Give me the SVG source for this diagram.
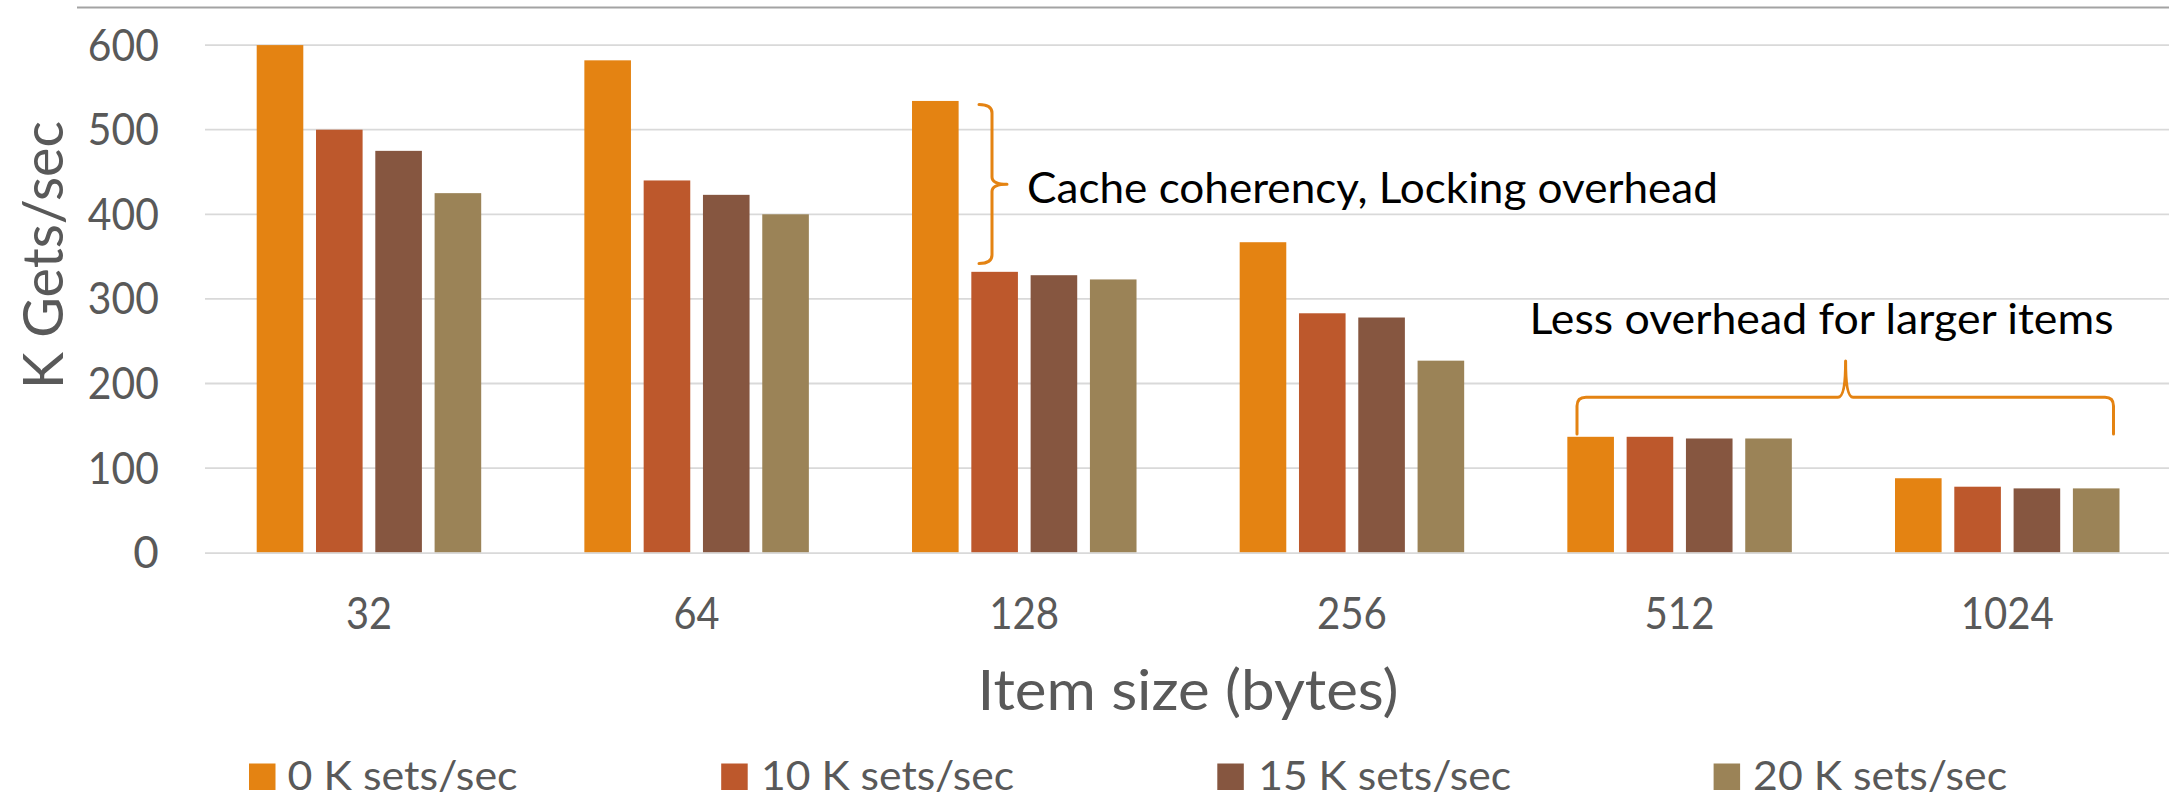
<svg xmlns="http://www.w3.org/2000/svg" width="2169" height="796" viewBox="0 0 2169 796">
  <style>
    .bg { fill: #ffffff; }
    .grid { stroke: #d9d9d9; stroke-width: 1.8; fill: none; }
    .frame { stroke: #a3a3a3; stroke-width: 2; fill: none; }
    .s0 { fill: #e48312; }
    .s1 { fill: #bd582c; }
    .s2 { fill: #865640; }
    .s3 { fill: #9b8357; }
    .tick { font-family: Lato, "Open Sans", sans-serif; font-size: 44px; fill: #595959; }
    .title { font-family: Lato, "Open Sans", sans-serif; font-size: 57px; fill: #595959; }
    .legend { font-family: Lato, "Open Sans", sans-serif; font-size: 40px; fill: #595959; }
    .note { font-family: Lato, "Open Sans", sans-serif; font-size: 43px; fill: #000000; }
    .brace { stroke: #e48312; stroke-width: 3; fill: none; stroke-linecap: round; stroke-linejoin: round; }
  </style>

  <rect class="bg" x="0" y="0" width="2169" height="796"/>

  <!-- chart frame top edge -->
  <line class="frame" x1="77" y1="7.5" x2="2169" y2="7.5"/>

  <!-- horizontal gridlines, 100 K steps -->
  <g id="gridlines">
    <line class="grid" x1="205" y1="45.1" x2="2169" y2="45.1"/>
    <line class="grid" x1="205" y1="129.7" x2="2169" y2="129.7"/>
    <line class="grid" x1="205" y1="214.3" x2="2169" y2="214.3"/>
    <line class="grid" x1="205" y1="298.9" x2="2169" y2="298.9"/>
    <line class="grid" x1="205" y1="383.5" x2="2169" y2="383.5"/>
    <line class="grid" x1="205" y1="468.1" x2="2169" y2="468.1"/>
  </g>

  <!-- value axis labels -->
  <g id="y-axis">
    <text class="tick" x="158.8" y="60.6" text-anchor="end" textLength="71" lengthAdjust="spacingAndGlyphs">600</text>
    <text class="tick" x="158.8" y="145.2" text-anchor="end" textLength="71" lengthAdjust="spacingAndGlyphs">500</text>
    <text class="tick" x="158.8" y="229.8" text-anchor="end" textLength="71" lengthAdjust="spacingAndGlyphs">400</text>
    <text class="tick" x="158.8" y="314.4" text-anchor="end" textLength="71" lengthAdjust="spacingAndGlyphs">300</text>
    <text class="tick" x="158.8" y="399.0" text-anchor="end" textLength="71" lengthAdjust="spacingAndGlyphs">200</text>
    <text class="tick" x="158.8" y="483.6" text-anchor="end" textLength="71" lengthAdjust="spacingAndGlyphs">100</text>
    <text class="tick" x="158.8" y="568.2" text-anchor="end">0</text>
    <text class="title" transform="translate(63,255) rotate(-90)" text-anchor="middle" textLength="268" lengthAdjust="spacingAndGlyphs">K Gets/sec</text>
  </g>

  <!-- bars, one group per item size -->
  <g id="size-32">
    <rect class="s0" x="256.7" y="45.1" width="46.6" height="507.6"/>
    <rect class="s1" x="316.0" y="129.7" width="46.6" height="423.0"/>
    <rect class="s2" x="375.3" y="150.85" width="46.6" height="401.85"/>
    <rect class="s3" x="434.6" y="193.15" width="46.6" height="359.55"/>
  </g>
  <g id="size-64">
    <rect class="s0" x="584.36" y="60.33" width="46.6" height="492.37"/>
    <rect class="s1" x="643.66" y="180.46" width="46.6" height="372.24"/>
    <rect class="s2" x="702.96" y="194.84" width="46.6" height="357.86"/>
    <rect class="s3" x="762.26" y="214.3" width="46.6" height="338.4"/>
  </g>
  <g id="size-128">
    <rect class="s0" x="912.02" y="100.94" width="46.6" height="451.76"/>
    <rect class="s1" x="971.32" y="271.83" width="46.6" height="280.87"/>
    <rect class="s2" x="1030.62" y="275.21" width="46.6" height="277.49"/>
    <rect class="s3" x="1089.92" y="279.44" width="46.6" height="273.26"/>
  </g>
  <g id="size-256">
    <rect class="s0" x="1239.68" y="242.22" width="46.6" height="310.48"/>
    <rect class="s1" x="1298.98" y="313.28" width="46.6" height="239.42"/>
    <rect class="s2" x="1358.28" y="317.51" width="46.6" height="235.19"/>
    <rect class="s3" x="1417.58" y="360.66" width="46.6" height="192.04"/>
  </g>
  <g id="size-512">
    <rect class="s0" x="1567.34" y="436.8" width="46.6" height="115.9"/>
    <rect class="s1" x="1626.64" y="436.8" width="46.6" height="115.9"/>
    <rect class="s2" x="1685.94" y="438.49" width="46.6" height="114.21"/>
    <rect class="s3" x="1745.24" y="438.49" width="46.6" height="114.21"/>
  </g>
  <g id="size-1024">
    <rect class="s0" x="1895.0" y="478.25" width="46.6" height="74.45"/>
    <rect class="s1" x="1954.3" y="486.71" width="46.6" height="65.99"/>
    <rect class="s2" x="2013.6" y="488.4" width="46.6" height="64.3"/>
    <rect class="s3" x="2072.9" y="488.4" width="46.6" height="64.3"/>
  </g>

  <!-- category axis baseline -->
  <line class="grid" x1="205" y1="553.2" x2="2169" y2="553.2"/>

  <!-- category axis labels -->
  <g id="x-axis">
    <text class="tick" x="368.9" y="629" text-anchor="middle" textLength="46" lengthAdjust="spacingAndGlyphs">32</text>
    <text class="tick" x="696.5" y="629" text-anchor="middle" textLength="46" lengthAdjust="spacingAndGlyphs">64</text>
    <text class="tick" x="1024.2" y="629" text-anchor="middle" textLength="70" lengthAdjust="spacingAndGlyphs">128</text>
    <text class="tick" x="1351.9" y="629" text-anchor="middle" textLength="70" lengthAdjust="spacingAndGlyphs">256</text>
    <text class="tick" x="1679.5" y="629" text-anchor="middle" textLength="70" lengthAdjust="spacingAndGlyphs">512</text>
    <text class="tick" x="2007.2" y="629" text-anchor="middle" textLength="93" lengthAdjust="spacingAndGlyphs">1024</text>
    <text class="title" x="1188" y="710" text-anchor="middle" textLength="421" lengthAdjust="spacingAndGlyphs">Item size (bytes)</text>
  </g>

  <!-- annotation braces -->
  <g id="connectors">
    <path class="brace" d="M979,104.5 Q992,104.5 992,113 L992,177 Q992,184.3 1007,184.3 Q992,184.3 992,191.6 L992,255 Q992,263.5 979,263.5"/>
    <path class="brace" d="M1577,434 L1577,406 Q1577,397.3 1586,397.3 L1838,397.3 Q1845.6,397.3 1845.6,361 Q1845.6,397.3 1853,397.3 L2105,397.3 Q2113.5,397.3 2113.5,406 L2113.5,434"/>
  </g>

  <!-- annotation texts -->
  <g id="note-locking">
    <text class="note" x="1027" y="203.3" textLength="691" lengthAdjust="spacingAndGlyphs">Cache coherency, Locking overhead</text>
  </g>
  <g id="note-large-items">
    <text class="note" x="1529.5" y="333.5" textLength="584" lengthAdjust="spacingAndGlyphs">Less overhead for larger items</text>
  </g>

  <!-- legend -->
  <g id="legend">
    <rect class="s0" x="249" y="763.5" width="26.5" height="26.5"/>
    <text class="legend" x="287.6" y="789.5" textLength="230" lengthAdjust="spacingAndGlyphs">0 K sets/sec</text>
    <rect class="s1" x="721.2" y="763.5" width="26.5" height="26.5"/>
    <text class="legend" x="761.1" y="789.5" textLength="253" lengthAdjust="spacingAndGlyphs">10 K sets/sec</text>
    <rect class="s2" x="1217.3" y="763.5" width="26.5" height="26.5"/>
    <text class="legend" x="1258.2" y="789.5" textLength="253" lengthAdjust="spacingAndGlyphs">15 K sets/sec</text>
    <rect class="s3" x="1713.6" y="763.5" width="26.5" height="26.5"/>
    <text class="legend" x="1753.1" y="789.5" textLength="254" lengthAdjust="spacingAndGlyphs">20 K sets/sec</text>
  </g>
</svg>
